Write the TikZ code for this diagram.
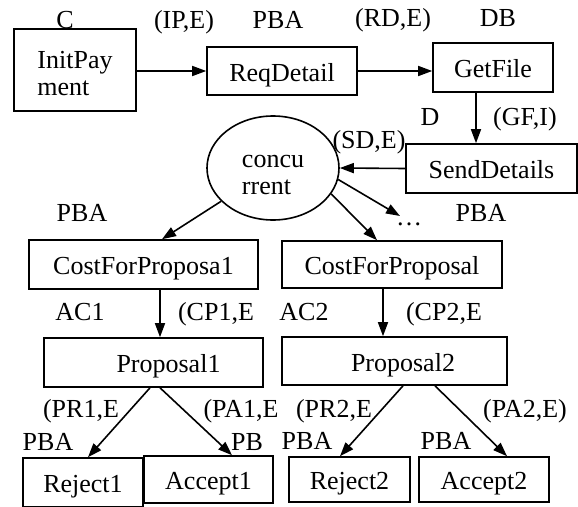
\documentclass[tikz,border=0pt]{standalone}
\usepackage{fontspec}
\setmainfont{Liberation Serif}
\usetikzlibrary{arrows.meta,shapes.geometric}
\begin{document}
\begin{tikzpicture}[x=1pt,y=-1pt,
  every node/.style={font=\fontsize{26}{27}\selectfont},
  box/.style={draw,line width=1.6pt,inner sep=0pt,text height=20pt,text depth=0pt},
  lbl/.style={anchor=base,inner sep=0pt},
  arr/.style={line width=1.6pt,-{Triangle[length=14pt,width=10pt]}}]
\useasboundingbox (0,0) rectangle (578,506);
% boxes
\node[box,minimum width=122pt,minimum height=82pt,align=left,text height=,text depth=] (init) at (75,70) {\rule{0pt}{25pt}InitPay\\ment};
\node[box,minimum width=150pt,minimum height=48pt] (req) at (282,71) {ReqDetail};
\node[box,minimum width=120pt,minimum height=49pt] (get) at (493,67.5) {GetFile};
\node[box,minimum width=171pt,minimum height=49pt] (send) at (491.5,168.5) {SendDetails};
\node[draw,line width=1.6pt,ellipse,inner sep=0pt,minimum width=132pt,minimum height=104pt,align=left] (conc) at (273,168) {\rule{0pt}{26pt}concu\\rrent};
\node[box,minimum width=229pt,minimum height=49pt] (cfp1) at (143.5,264.5) {CostForProposa1};
\node[box,minimum width=220pt,minimum height=47pt] (cfp2) at (392,264.5) {CostForProposal};
\node[box,minimum width=219pt,minimum height=49pt] (prop1) at (153.5,362.5) {\hspace*{30pt}Proposal1};
\node[box,minimum width=225pt,minimum height=48pt] (prop2) at (394.5,361) {\hspace*{17pt}Proposal2};
\node[box,minimum width=120pt,minimum height=49pt] (rej1) at (83,482.5) {Reject1};
\node[box,minimum width=129pt,minimum height=47pt] (acc1) at (208.5,479.5) {Accept1};
\node[box,minimum width=121pt,minimum height=45pt] (rej2) at (349.5,479.5) {Reject2};
\node[box,minimum width=130pt,minimum height=45pt] (acc2) at (484,479.5) {Accept2};
\node[lbl] (dots) at (409,225) {\ldots};
\coordinate (dotstip) at (400,216);
% labels
\node[lbl] (lC) at (65,28) {C};
\node[lbl] (lIP) at (184,28) {(IP,E)};
\node[lbl] (lPBA1) at (278,28) {PBA};
\node[lbl] (lRD) at (393,27) {(RD,E)};
\node[lbl] (lDB) at (498,27) {DB};
\node[lbl] (lD) at (430,125) {D};
\node[lbl] (lGF) at (525,125) {(GF,I)};
\node[lbl] (lSD) at (369,148) {(SD,E)};
\node[lbl] (lPBA2) at (82,221) {PBA};
\node[lbl] (lPBA3) at (481,221) {PBA};
\node[lbl] (lAC1) at (80,320) {AC1};
\node[lbl] (lCP1) at (216,320) {(CP1,E};
\node[lbl] (lAC2) at (304,320) {AC2};
\node[lbl] (lCP2) at (444,320) {(CP2,E};
\node[lbl] (lPR1) at (81,417) {(PR1,E};
\node[lbl] (lPA1) at (241,417) {(PA1,E};
\node[lbl] (lPR2) at (334,417) {(PR2,E};
\node[lbl] (lPA2) at (525,417) {(PA2,E)};
\node[lbl] (lPBA4) at (48,450) {PBA};
\node[lbl] (lPB) at (247,450) {PB};
\node[lbl] (lPBA5) at (307,449) {PBA};
\node[lbl] (lPBA6) at (446,449) {PBA};
% connectors
\draw[arr] (init.east |- req.west) -- (req.west);
\draw[arr] (req.east) -- (get.west |- req.east);
\draw[arr] (get.south -| 476,0) -- (send.north -| 476,0);
\draw[arr] (send.west) -- (conc.east);
\draw[arr] (conc) -- (cfp1.north -| 162,0);
\draw[arr] (conc.-24.6) -- (cfp2.north -| 377,0);
\draw[arr] (conc.-10) -- (dotstip);
\draw[arr] (cfp1.south -| 160,0) -- (prop1.north -| 160,0);
\draw[arr] (cfp2.south -| 383,0) -- (prop2.north -| 383,0);
\draw[arr] (prop1.south -| 150,0) -- (rej1.north -| 88,0);
\draw[arr] (prop1.south -| 160,0) -- (acc1.north -| 232,0);
\draw[arr] (prop2.south -| 403,0) -- (rej2.north -| 340,0);
\draw[arr] (prop2.south -| 435,0) -- (acc2.north -| 507,0);
\end{tikzpicture}
\end{document}
